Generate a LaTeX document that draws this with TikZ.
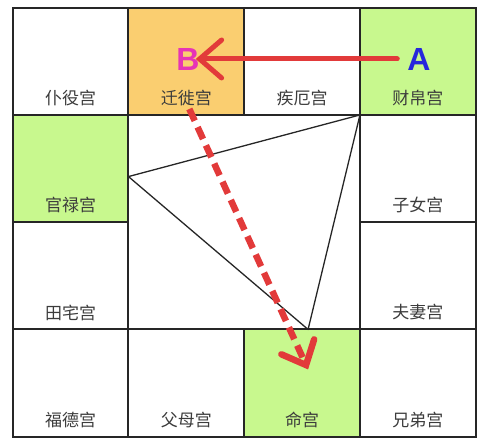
\documentclass[tikz,border=0pt]{standalone}
\usepackage{fontspec}
\newfontfamily\cjk{Noto Sans CJK SC}
\newfontfamily\letterfont{Liberation Sans}
\usetikzlibrary{arrows.meta}
\definecolor{gridline}{HTML}{262626}
\definecolor{textgray}{HTML}{3C3C3C}
\definecolor{limegreen}{RGB}{200,248,142}
\definecolor{paleorange}{RGB}{250,206,112}
\definecolor{arrowred}{RGB}{226,58,58}
\definecolor{letterpink}{RGB}{230,52,182}
\definecolor{letterblue}{RGB}{38,38,220}
\tikzset{
  palacetext/.style={anchor=center, yshift=17pt, text=textgray, font=\cjk\fontsize{17}{17}\selectfont},
  palace/.style={draw=gridline, line width=2pt, minimum width=115.75pt, minimum height=107.25pt,
    inner sep=0pt, outer sep=0pt, label={[palacetext]south:#1}},
  letter/.style={font=\letterfont\bfseries\fontsize{32}{32}\selectfont, inner sep=1pt},
  movearrow/.style={draw=arrowred, line width=5pt, line cap=round,
    -{Straight Barb[length=22pt, width=38pt, line cap=round]}},
  flyarrow/.style={draw=arrowred, line width=6.5pt, dash pattern=on 13pt off 7pt,
    -{Straight Barb[length=20pt, width=36pt, line cap=round]}},
}
\begin{document}
\begin{tikzpicture}[x=1pt, y=-1pt]
  \useasboundingbox (0,0) rectangle (489,446);
  \matrix[anchor=north west, inner sep=0pt, column sep=-2pt, row sep=-2pt, ampersand replacement=\&] at (11.5,6.5)
  {
    \node[palace=仆役宫](puyi) {}; \& \node[palace=迁徙宫, fill=paleorange](qianxi) {}; \&
    \node[palace=疾厄宫](jie) {}; \& \node[palace=财帛宫, fill=limegreen](caibo) {};\\
    \node[palace=官禄宫, fill=limegreen](guanlu) {}; \&\&\& \node[palace=子女宫](zinv) {};\\
    \node[palace=田宅宫](tianzhai) {}; \&\&\& \node[palace=夫妻宫](fuqi) {};\\
    \node[palace=福德宫](fude) {}; \& \node[palace=父母宫](fumu) {}; \&
    \node[palace=命宫, fill=limegreen](ming) {}; \& \node[palace=兄弟宫](xiongdi) {};\\
  };
  % triangle of the three palaces
  \draw[gridline, line width=1.3pt, line join=round]
    ([yshift=-8pt]guanlu.east) -- (caibo.south west) -- ([xshift=6pt]ming.north) -- cycle;
  \node[letter, text=letterpink] (B) at (188,59) {B};
  \node[letter, text=letterblue] (A) at (419,59) {A};
  \draw[movearrow, shorten <=9pt, shorten >=-5pt] (A) -- (B);
  \coordinate (mingtip) at ([xshift=6pt,yshift=-40pt]ming.north);
  \draw[flyarrow] ([xshift=3pt,yshift=6pt]qianxi.south) -- (mingtip);
\end{tikzpicture}
\end{document}
